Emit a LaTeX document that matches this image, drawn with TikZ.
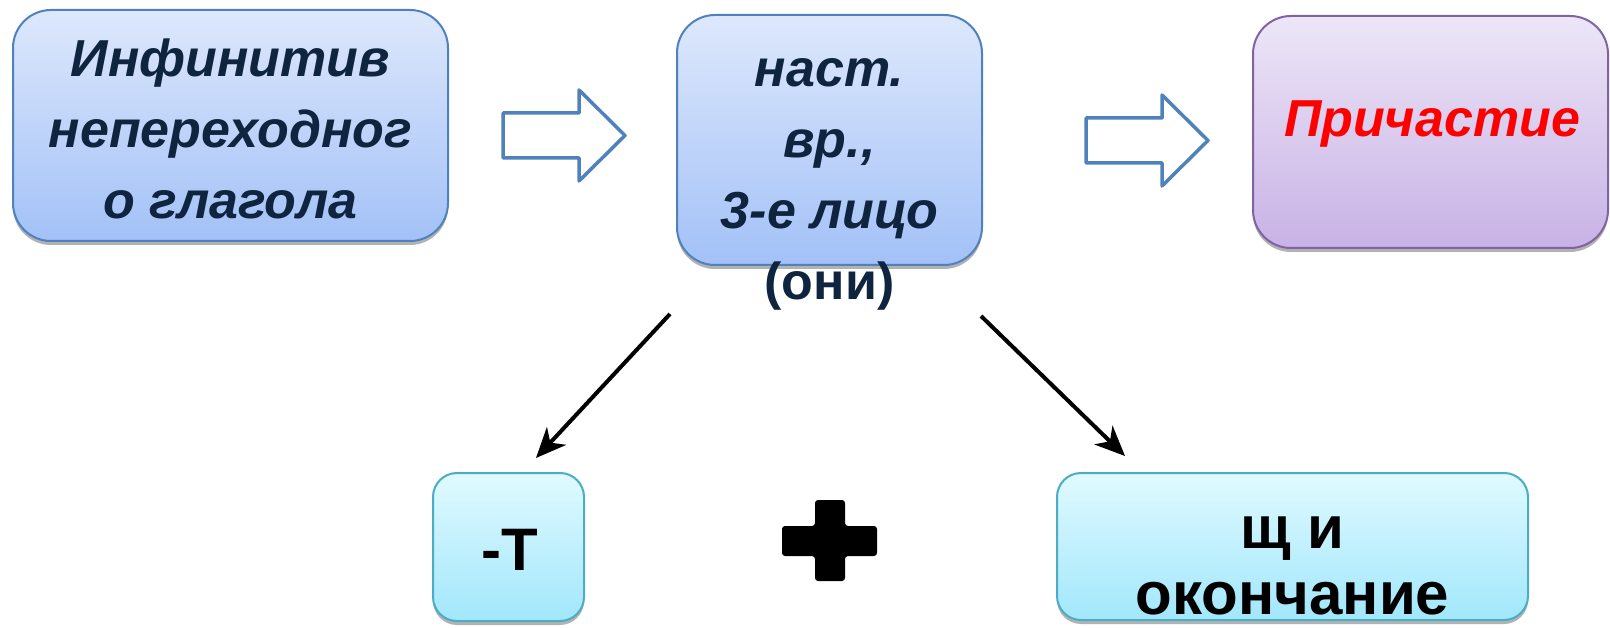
\documentclass[tikz,border=0pt]{standalone}
\usepackage{fontspec}
\setmainfont{Liberation Sans}
\usetikzlibrary{arrows.meta,positioning,shadows}

\definecolor{navytext}{HTML}{0F243E}
\definecolor{blueline}{HTML}{4F81BD}
\definecolor{bluetop}{HTML}{DDE8FC}
\definecolor{bluebot}{HTML}{A3C1F7}
\definecolor{lilacline}{HTML}{8064A2}
\definecolor{lilactop}{HTML}{EDE6F7}
\definecolor{lilacbot}{HTML}{C8B2E6}
\definecolor{cyanline}{HTML}{4BACC6}
\definecolor{cyantop}{HTML}{E0FAFF}
\definecolor{cyanbot}{HTML}{A2E7FB}

\tikzset{
  box/.style = {rectangle, inner sep=0pt, line width=2pt, rounded corners=38pt,
    drop shadow={shadow xshift=0pt, shadow yshift=-4pt, opacity=0.3, fill=black}},
  box_b/.style = {box, draw=blueline, top color=bluetop, bottom color=bluebot},% blue box
  box_v/.style = {box, draw=lilacline, top color=lilactop, bottom color=lilacbot},% lilac box
  box_c/.style = {box, rounded corners=24pt, draw=cyanline, top color=cyantop,
    bottom color=cyanbot},% cyan box
  txt_top/.style = {align=center, inner sep=0pt, text=navytext,
    font=\fontsize{52}{71}\selectfont\bfseries\itshape},
  txt_bot/.style = {align=center, inner sep=0pt, text=black,
    font=\fontsize{60}{66}\selectfont\bfseries},
  hollow/.style = {draw=blueline, line width=3.5pt, line join=round},
  down/.style = {line width=4pt, -{Stealth[length=30pt,width=26pt,inset=9pt]}}
}

\begin{document}
\begin{tikzpicture}[x=1pt,y=-1pt]
\useasboundingbox (0,0) rectangle (1610,628);

% upper row
\node [box_b, minimum width=435pt, minimum height=231pt] (inf) at (230.5,125.5) {};
\node [box_b, minimum width=305pt, minimum height=250pt] (praes) at (829.5,140) {};
\node [box_v, minimum width=355pt, minimum height=232pt] (part) at (1430.5,132) {};

% base = last line
\node [txt_top, anchor=base] (inf_t) at (230.5,219) {Инфинитив\\непереходног\\о глагола};
\node [txt_top, anchor=base] (praes_t) at (829.5,300) {наст.\\вр.,\\3-е лицо\\\upshape (они)};
\node [txt_top, anchor=base, text=red] (part_t) at (1432,137) {Причастие};

% block arrows
\coordinate (a1) at (503,135.5);
\coordinate (a2) at (1086,140.5);
\foreach \a in {a1,a2}
  \draw [hollow] (\a) ++(0,-22.5) -- ++(76,0) -- ++(0,-23) -- ++(46,45.5)
    -- ++(-46,45.5) -- ++(0,-23) -- ++(-76,0) -- cycle;

% lower row
\node [box_c, minimum width=151pt, minimum height=148pt] (suf) at (508.5,547) {};
\node [box_c, minimum width=471pt, minimum height=147pt] (end) at (1292.5,546.5) {};
\node [txt_bot, anchor=base] (suf_t) at (509.5,570) {-Т};
\node [txt_bot, anchor=base] (end_t) at (1292.5,614) {щ и\\окончание};

% plus
\fill [rounded corners=3pt] (815,500) -- (845,500) -- (845,526) -- (877,526) -- (877,556)
  -- (845,556) -- (845,581) -- (815,581) -- (815,556) -- (782,556) -- (782,526)
  -- (815,526) -- cycle;

% arrows down
\coordinate (s1) at (670,314);
\coordinate (t1) at (536,458);
\coordinate (s2) at (981,316);
\coordinate (t2) at (1125,456);
\draw [down] (s1) -- (t1);
\draw [down] (s2) -- (t2);
\end{tikzpicture}
\end{document}
